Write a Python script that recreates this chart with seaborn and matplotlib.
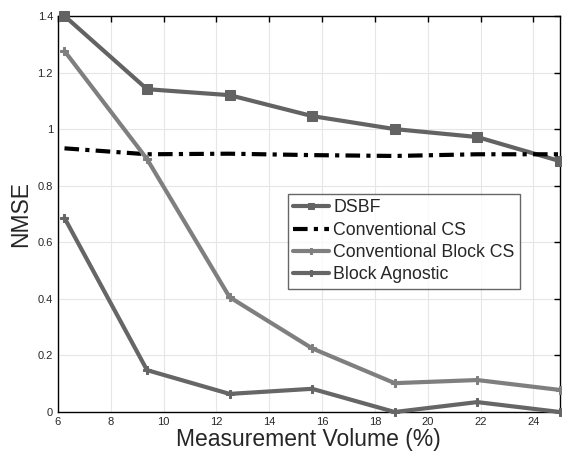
import numpy as np
import pandas as pd
import matplotlib
matplotlib.use("Agg")
import matplotlib.pyplot as plt
from matplotlib.ticker import FuncFormatter
import seaborn as sns

volume = [6.25, 9.375, 12.5, 15.625, 18.75, 21.875, 25.0]
dsbf = [1.40, 1.141, 1.12, 1.046, 1.0, 0.972, 0.887]
conv_cs = [0.932, 0.911, 0.913, 0.908, 0.905, 0.911, 0.911]
conv_block_cs = [1.276, 0.894, 0.406, 0.225, 0.102, 0.113, 0.078]
block_agnostic = [0.686, 0.148, 0.064, 0.082, 0.0, 0.035, 0.0]

sns.set_style("white")
plt.rcParams['font.family'] = ['Liberation Sans', 'DejaVu Sans']

fig = plt.figure(figsize=(5.62, 4.55), dpi=100)
ax = fig.add_axes([0.103, 0.0945, 0.893, 0.8705])

series = [
    ("DSBF", dsbf, dict(color="#636363", marker="s", markersize=7, linestyle="-")),
    ("Conventional CS", conv_cs, dict(color="#000000", marker=None, linestyle=(0, (3.5, 1.5, 1, 1.5)))),
    ("Conventional Block CS", conv_block_cs, dict(color="#7f7f7f", marker="P", markersize=6, linestyle="-")),
    ("Block Agnostic", block_agnostic, dict(color="#666666", marker="P", markersize=6, linestyle="-")),
]

for name, vals, st in series:
    df = pd.DataFrame({"volume": volume, "nmse": vals})
    sns.lineplot(data=df, x="volume", y="nmse", ax=ax, label=name,
                 color=st["color"], marker=st["marker"],
                 markersize=st.get("markersize", 6), linewidth=3,
                 linestyle=st["linestyle"], markeredgecolor=st["color"],
                 clip_on=False, zorder=3)

ax.set_xlim(6, 25)
ax.set_ylim(0, 1.4)
ax.set_xticks(np.arange(6, 25, 2))
ax.set_yticks(np.arange(0, 1.41, 0.2))
ax.yaxis.set_major_formatter(FuncFormatter(lambda v, p: f"{v:g}"))
ax.tick_params(direction="in", length=4, width=1, labelsize=8,
               top=True, right=True, color="black")
ax.grid(True, color="#e6e6e6", linewidth=0.8)
for s in ax.spines.values():
    s.set_color("black")
    s.set_linewidth(1)

ax.set_xlabel("Measurement Volume (%)", fontsize=16.5, labelpad=1)
ax.set_ylabel("NMSE", fontsize=16.5, labelpad=4)

leg = ax.legend(loc="upper left", bbox_to_anchor=(0.458, 0.55), fontsize=12.8,
                frameon=True, fancybox=False, edgecolor="#404040",
                handlelength=2.0, handletextpad=0.25, borderpad=0.3,
                labelspacing=0.3, borderaxespad=0)
leg.get_frame().set_linewidth(1)
for h in leg.legend_handles:
    h.set_markersize(5)

fig.savefig("out.png", dpi=100)
